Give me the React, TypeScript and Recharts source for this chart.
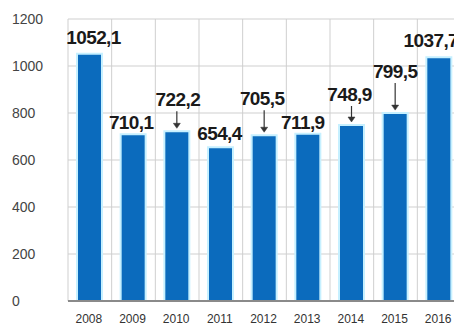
import { BarChart, Bar, XAxis, YAxis, CartesianGrid, LabelList } from 'recharts';

const years = ['2008', '2009', '2010', '2011', '2012', '2013', '2014', '2015', '2016'];
const values = [1052.1, 710.1, 722.2, 654.4, 705.5, 711.9, 748.9, 799.5, 1037.7];
const hasArrow = [false, false, true, false, true, false, true, true, false];
const yTicks = [0, 200, 400, 600, 800, 1000, 1200];

// label placement tweaks (px above the bar top, horizontal nudge)
const labelLift = [10, 5, 25, 7, 30, 5, 24, 35, 10];
const labelNudge = [4, -2, 1, -1, -2, -5, -2, 0, -8];

const data = years.map((year, i) => ({ year, value: values[i], arrow: hasArrow[i] }));

const fmt = (v: number) => v.toFixed(1).replace('.', ',');

const ValueLabel = (props: any) => {
    const { x, y, width, value, index } = props;
    const cx = x + width / 2;
    const base = y - labelLift[index];
    return (
        <g>
            <text
                x={cx + labelNudge[index]}
                y={base}
                textAnchor="middle"
                fontFamily="'Liberation Sans', Arial, sans-serif"
                fontWeight="bold"
                fontSize={19}
                letterSpacing={-0.6}
                fill="#1a1a1a"
            >
                {fmt(value)}
            </text>
            {hasArrow[index] && (
                <g stroke="#333" fill="#333">
                    <line x1={cx} y1={base + 5} x2={cx} y2={y - 6} strokeWidth={1.2} />
                    <path d={`M${cx - 3.5},${y - 8} L${cx + 3.5},${y - 8} L${cx},${y - 3} Z`} strokeWidth={0.5} />
                </g>
            )}
        </g>
    );
};

const YTick = (props: any) => {
    const { y, payload } = props;
    return (
        <text x={12} y={y + 5} fontFamily="'Liberation Sans', Arial, sans-serif" fontSize={14} fill="#444">
            {payload.value}
        </text>
    );
};

const XTick = (props: any) => {
    const { x, payload } = props;
    return (
        <text x={x - 1} y={323} textAnchor="middle" fontFamily="'Liberation Sans', Arial, sans-serif" fontSize={12} fill="#333">
            {payload.value}
        </text>
    );
};

export default function App() {
    return (
        <div style={{ position: 'absolute', top: 0, left: 0, width: 454, height: 325, overflow: 'hidden', background: '#fff' }}>
            <BarChart width={467} height={325} data={data} margin={{ top: 19, right: 6, bottom: 0, left: 0 }} barSize={25}>
                <CartesianGrid
                    stroke="#cfcfcf"
                    verticalCoordinatesGenerator={({ offset }: any) =>
                        years.map((_, i) => offset.left + (i * offset.width) / years.length)
                    }
                />
                <XAxis
                    dataKey="year"
                    tickLine={false}
                    axisLine={{ stroke: '#8a8a8a', strokeWidth: 2 }}
                    height={24}
                    tick={<XTick />}
                    interval={0}
                />
                <YAxis
                    domain={[0, 1200]}
                    ticks={yTicks}
                    width={68}
                    axisLine={false}
                    tickLine={false}
                    tick={<YTick />}
                />
                <Bar dataKey="value" fill="#0b6bbd" stroke="#c6f0ff" strokeWidth={2} isAnimationActive={false}>
                    <LabelList dataKey="value" content={<ValueLabel />} />
                </Bar>
            </BarChart>
        </div>
    );
}
